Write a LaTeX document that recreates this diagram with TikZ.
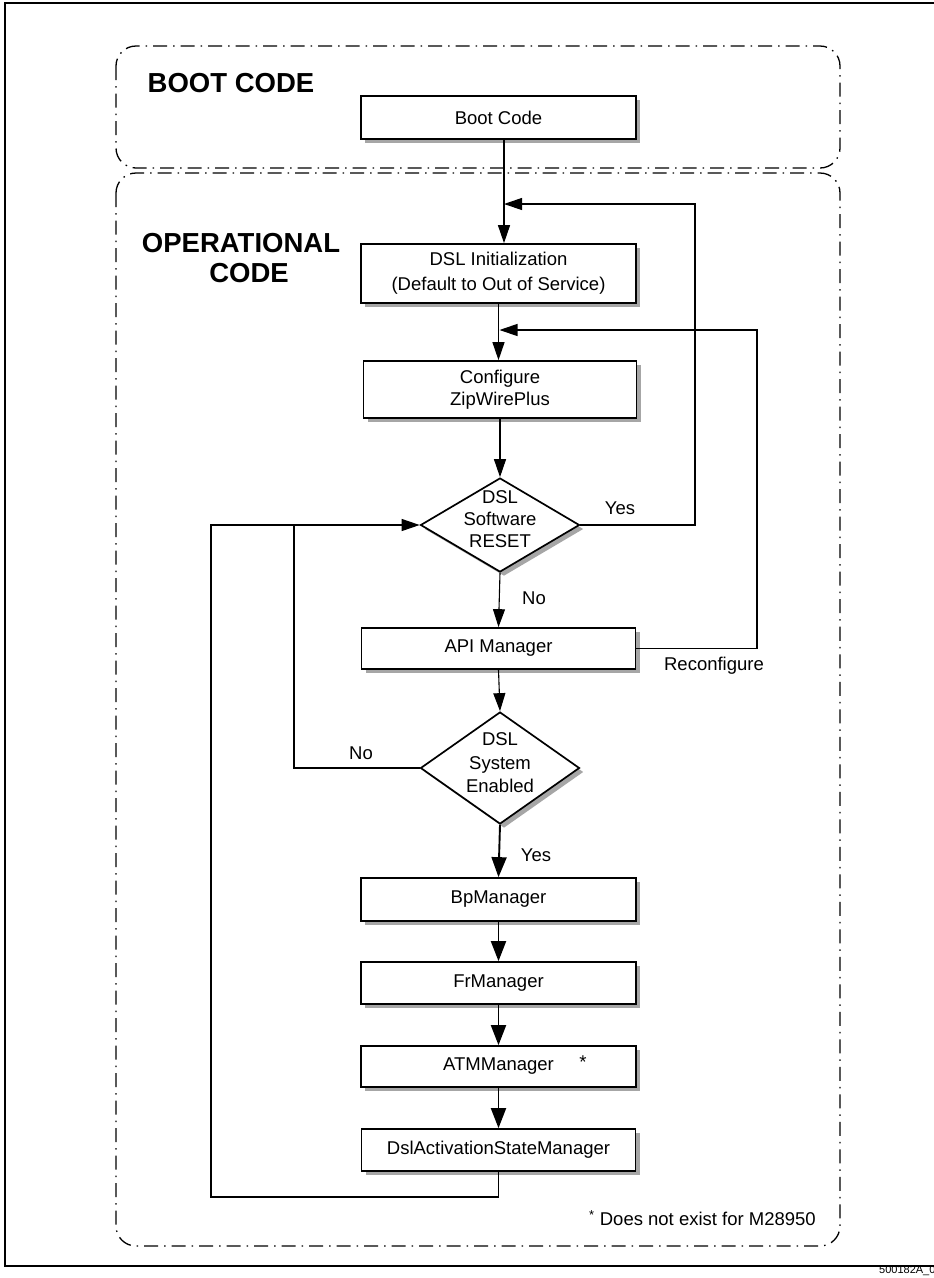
\documentclass[tikz,border=0pt]{standalone}
\usepackage{fontspec}
\setmainfont{Liberation Sans}
\usetikzlibrary{shapes.geometric,arrows.meta,shadows}

\definecolor{shadowgray}{HTML}{A6A6A6}

\begin{document}
\begin{tikzpicture}[x=1pt,y=-1pt,
  every node/.style={font=\fontsize{18.5}{23}\selectfont, inner sep=0pt},
  region/.style={line width=1.3pt, dash pattern=on 14pt off 6pt on 1.5pt off 6pt, rounded corners=20pt},
  boxshadow/.style={drop shadow={shadow xshift=4pt, shadow yshift=-4pt, fill=shadowgray, opacity=1}},
  procbox/.style={draw, line width=1.7pt, fill=white, rectangle, align=center,
    minimum width=275pt, boxshadow},
  decision/.style={draw, line width=1.7pt, fill=white, diamond, minimum width=159pt, boxshadow},
  flow/.style={line width=1.1pt, -{Triangle[length=18pt,width=12pt]}},
  heavyflow/.style={line width=1.9pt, -{Triangle[length=20pt,width=15pt]}},
  link/.style={line width=1.1pt},
  title/.style={font=\fontsize{27.5}{30}\selectfont\bfseries, align=center},
  tag/.style={align=center}
]
\useasboundingbox (0,0) rectangle (934,1278);

% outer frame, open on the right
\draw[line width=1.2pt] (934,3) -- (5,3) -- (5,1266) -- (934,1266);
\node[anchor=west, font=\fontsize{11}{12}\selectfont] (figid) at (879,1271) {500182A\_0};

% code regions
\draw[region] (116,46) rectangle (840,168);
\draw[region] (116,173) rectangle (840,1246);
\node[title] (boottitle) at (231,83) {BOOT CODE};
\node[title] (optitle) at (241,258) {OPERATIONAL\\\hspace*{16pt}CODE};

% process boxes and decisions
\node[procbox, minimum height=43pt] (boot) at (498.5,117.5) {Boot Code};
\node[procbox, minimum height=59pt, font=\fontsize{18.5}{25}\selectfont] (init) at (498.5,273.5) {DSL Initialization\\(Default to Out of Service)};
\node[procbox, minimum width=273pt, minimum height=57pt, font=\fontsize{18.5}{22}\selectfont] (config) at (500,389.5) {Configure\\ZipWirePlus};
\node[decision, minimum height=94pt] (d1) at (500,525) {};
\node[tag, font=\fontsize{18.5}{22}\selectfont] (d1text) at (500,519) {DSL\\Software\\RESET};
\node[procbox, minimum width=274pt, minimum height=41pt] (api) at (498.5,648.5) {API Manager};
\node[decision, minimum height=112pt] (d2) at (500,768) {};
\node[tag, font=\fontsize{18.5}{23.5}\selectfont] (d2text) at (500,763) {DSL\\System\\Enabled};
\node[procbox, minimum height=43pt] (bp) at (498.5,899.5) {BpManager};
\node[procbox, minimum height=42pt] (fr) at (498.5,983) {FrManager};
\node[procbox, minimum height=41pt] (atm) at (498.5,1066.5) {ATMManager};
\node (atmstar) at (583,1062) {*};
\node[procbox, minimum width=274pt, minimum height=42pt] (dsl) at (498.5,1150) {DslActivationStateManager};

% main flow
\draw[flow] ([xshift=5.5pt]boot.south) -- ([xshift=5.5pt]init.north);
\draw[flow] (init.south) -- (init.south |- config.north);
\draw[flow] (config.south) -- (d1.north);
\draw[flow] (d1.south) -- (api.north);
\draw[flow] (api.south) -- (d2.north);
\draw[heavyflow] (d2.south) -- (bp.north);
\draw[heavyflow] (bp.south) -- (fr.north);
\draw[heavyflow] (fr.south) -- (atm.north);
\draw[heavyflow] (atm.south) -- (dsl.north);

% loops back
\coordinate (yesup) at (695,204);
\coordinate (yesin) at (504,204);
\draw[flow] (d1.east) -| (yesup) -- (yesin);

\coordinate (recup) at (757,330);
\coordinate (recin) at (499.5,330);
\draw[flow] (api.east) -| (recup) -- (recin);

\coordinate (nojoin) at (294,525);
\draw[link] (d2.west) -| (nojoin);

\coordinate (loopc) at (211,1197);
\draw[flow] (dsl.south) |- (loopc) |- (d1.west);

% branch labels
\node (yes1) at (620,508) {Yes};
\node (no1) at (534,598) {No};
\node (reconf) at (714,666) {Reconfigure};
\node (no2) at (361,753) {No};
\node (yes2) at (536,855) {Yes};

% footnote
\node[anchor=east] (foot) at (816,1218) {\textsuperscript{*} Does not exist for M28950};
\end{tikzpicture}
\end{document}
